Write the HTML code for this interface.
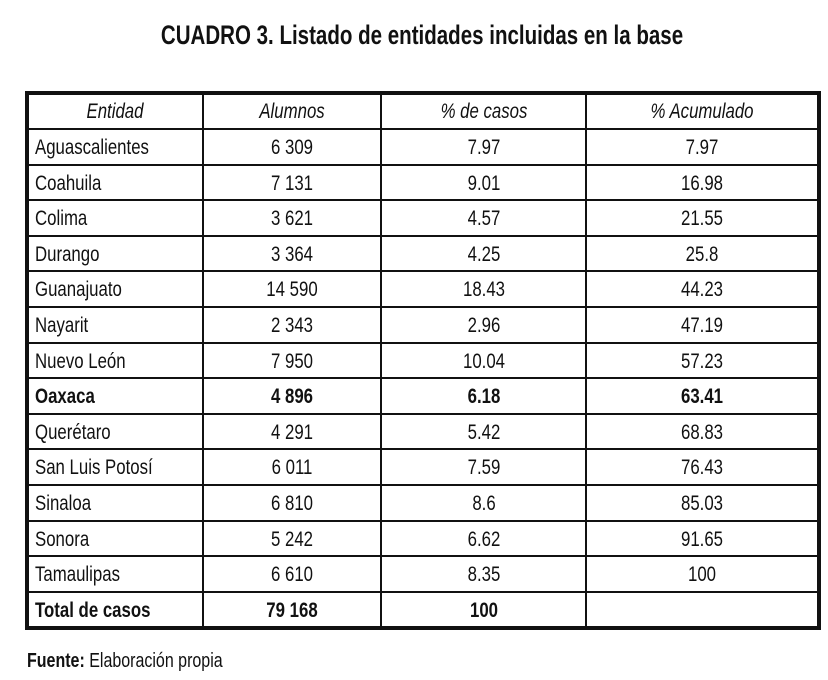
<!DOCTYPE html>
<html><head><meta charset="utf-8"><style>
body{margin:0;width:828px;height:680px;background:#fff;position:relative;overflow:hidden;font-family:"Liberation Sans",sans-serif;color:#111}
.t{position:absolute;white-space:nowrap;font-size:21px;line-height:20px}
.c{transform:translateX(-50%) scaleX(0.8)}
.l{transform:scaleX(0.8);transform-origin:left center}
.ln{position:absolute;background:#111}
</style></head><body>
<div class="t" style="left:422px;top:22px;font-size:27px;line-height:27px;font-weight:bold;transform:translateX(-50%) scaleX(0.76)">CUADRO 3. Listado de entidades incluidas en la base</div>
<div id="tbl"></div>
<div class="t l" style="left:27px;top:651px;font-size:20px"><b>Fuente:</b> Elaboración propia</div>
<script>
const headers=["Entidad","Alumnos","% de casos","% Acumulado"];
const entities=["Aguascalientes","Coahuila","Colima","Durango","Guanajuato","Nayarit","Nuevo León","Oaxaca","Querétaro","San Luis Potosí","Sinaloa","Sonora","Tamaulipas","Total de casos"];
const students=["6 309","7 131","3 621","3 364","14 590","2 343","7 950","4 896","4 291","6 011","6 810","5 242","6 610","79 168"];
const pct=["7.97","9.01","4.57","4.25","18.43","2.96","10.04","6.18","5.42","7.59","8.6","6.62","8.35","100"];
const cum=["7.97","16.98","21.55","25.8","44.23","47.19","57.23","63.41","68.83","76.43","85.03","91.65","100",""];
const boldRows=[7,13];
const tbl=document.getElementById('tbl');
const colX=[27,203,381,586,818];
const top0=93, headerH=36, rowH=35.6;
function line(x,y,w,h,name){const d=document.createElement('div');d.className='ln';


d.style.cssText=`left:${x}px;top:${y}px;width:${w}px;height:${h}px`;tbl.appendChild(d);}
function txt(s,x,y,cls,bold,ital,name){const d=document.createElement('div');d.className='t '+cls;d.textContent=s;


d.style.left=x+'px';d.style.top=y+'px';if(bold)d.style.fontWeight='bold';if(ital)d.style.fontStyle='italic';tbl.appendChild(d);}
const bottom=top0+headerH+rowH*entities.length;
headers.forEach((h,i)=>{const cx=(colX[i]+colX[i+1])/2;txt(h,cx,top0+9,'c',false,true,'header-'+i);});
line(25,top0+headerH-1,795,2,'header-divider');
entities.forEach((e,r)=>{const y=top0+headerH+rowH*r;const b=boldRows.includes(r);
txt(e,35,y+9,'l',b,false,'entity-cell');
txt(students[r],(colX[1]+colX[2])/2,y+9,'c',b,false,'students-cell');
txt(pct[r],(colX[2]+colX[3])/2,y+9,'c',b,false,'pct-cell');
if(cum[r])txt(cum[r],(colX[3]+colX[4])/2,y+9,'c',b,false,'cum-cell');
if(r>0)line(25,y-1,795,2,'row-divider');});
for(let i=1;i<4;i++)line(colX[i]-1,top0,2,bottom-top0,'col-divider');
line(25,91,796,4,'border-top');line(25,bottom-1,796,4,'border-bottom');
line(25,91,4,bottom-88,'border-left');line(817,91,4,bottom-88,'border-right');
</script>
</body></html>
